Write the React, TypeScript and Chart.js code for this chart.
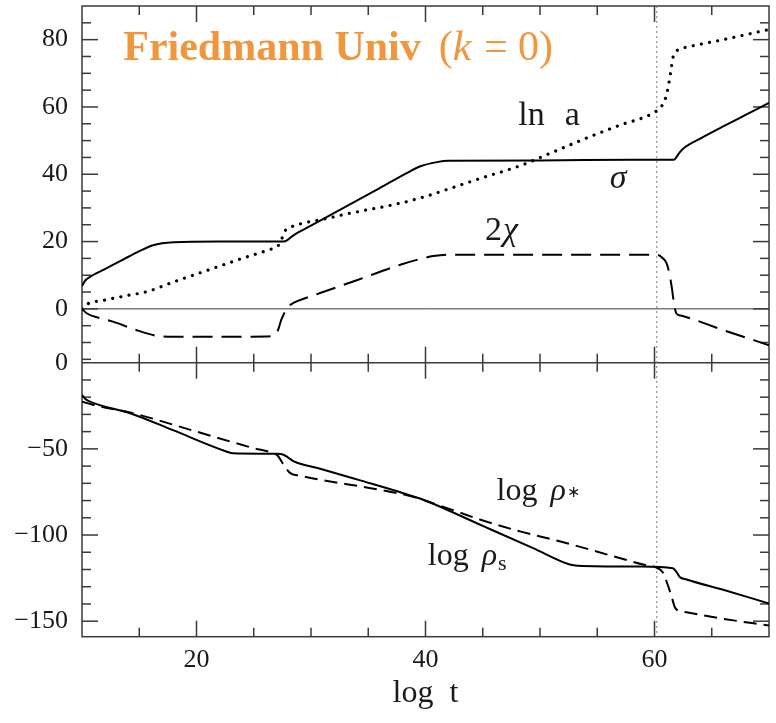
import React, { useEffect, useRef } from 'react';
import { Chart, registerables } from 'chart.js';

Chart.register(...registerables);

// ---- axis ranges & tick labels ----
const X_MIN = 10;
const X_MAX = 70;
const TOP_MIN = -16;
const TOP_MAX = 90;
const BOT_MIN = -159;
const BOT_MAX = 0;

const xTickLabels = [20, 40, 60];
const topTickLabels = [0, 20, 40, 60, 80];
const botTickLabels = [0, -50, -100, -150];

// ---- top panel series ----
const lnA_t = [10, 10.3, 10.7, 12, 13.5, 15.1, 16.2, 17, 18, 22, 27.6, 28.0, 28.4, 30, 33, 36, 38.4, 39.5, 41, 42, 50, 58, 61.7, 61.9, 62.2, 62.6, 64, 66, 68, 70];
const lnA_v = [6.8, 8.5, 9.5, 11.8, 14.5, 17.3, 18.9, 19.5, 19.8, 20.0, 20.0, 20.6, 21.7, 24.7, 30.3, 35.9, 40.4, 42.3, 43.6, 44.0, 44.1, 44.3, 44.3, 45.0, 46.5, 47.9, 50.6, 54.2, 57.7, 61.2];

const sigma_t = [10, 10.4, 12, 14, 15.65, 18, 21, 24, 26.1, 27.0, 27.3, 27.7, 28.2, 29, 31, 33.4, 37.8, 39.8, 42, 45, 48.25, 51, 54.1, 57, 59.9, 60.5, 60.9, 61.2, 61.4, 61.6, 61.9, 62.2, 63, 65.7, 70];
const sigma_v = [0, 1.3, 2.6, 4.0, 5.1, 8.0, 11.5, 15.0, 17.3, 18.5, 19.5, 23.0, 24.2, 25.2, 26.6, 28.4, 31.4, 33.2, 35.6, 39.0, 42.5, 46.4, 50.8, 54.6, 58.2, 59.8, 62.0, 66.0, 70.0, 74.5, 76.5, 77.2, 77.9, 79.8, 83.0];

const chi2_t = [10, 10.4, 11.5, 12.7, 14.5, 16.5, 18, 22, 26.2, 26.8, 27.1, 27.4, 27.7, 27.9, 28.3, 28.75, 30.8, 34, 37.8, 39.5, 40.7, 42, 50, 60.2, 60.6, 61.05, 61.3, 61.5, 61.7, 61.9, 62.3, 66, 70];
const chi2_v = [0, -1.3, -2.7, -3.8, -6.0, -8.0, -8.3, -8.3, -8.2, -7.7, -6.5, -3.3, -1.0, 0.4, 1.4, 2.2, 4.7, 8.5, 13.1, 14.8, 15.7, 16.1, 16.1, 16.1, 15.4, 13.6, 10.5, 6.6, 1.7, -1.3, -2.0, -6.3, -10.8];

// ---- bottom panel series ----
const rhoS_t = [10, 10.3, 10.7, 14.2, 18, 22.6, 23.2, 27.0, 27.6, 28.0, 28.5, 30.8, 34.3, 37.8, 39.8, 45, 49.4, 52.6, 53.3, 58.7, 61.6, 61.9, 62.2, 62.8, 66, 70];
const rhoS_v = [-18.7, -21.0, -22.6, -29.3, -39.3, -51.5, -52.6, -52.9, -53.4, -55.0, -57.3, -61.5, -68.3, -75.2, -79.5, -94.7, -107.6, -117.1, -117.8, -118.3, -119.3, -121.3, -124.3, -125.8, -131.8, -139.7];

const rhoStar_t = [10, 11.6, 14.2, 20, 25, 26.7, 27.1, 27.6, 28.2, 29, 30.8, 36, 38.9, 41.3, 44.8, 48.25, 51.7, 56.4, 59.0, 60.2, 60.7, 61.2, 61.5, 61.8, 62.2, 62.8, 66, 70];
const rhoStar_v = [-22.6, -25.5, -28.9, -40.0, -49.6, -52.5, -54.0, -59.2, -64.1, -65.5, -67.9, -73.7, -77.8, -83.0, -91.1, -97.9, -103.6, -112.3, -117.1, -119.0, -121.5, -129.7, -136.0, -142.2, -144.0, -144.8, -148.6, -152.5];

// ---- reference line & labels ----
const MARKER_T = 60.2;
const TITLE_MAIN = 'Friedmann Univ';
const TITLE_AT = [13.6, 74.0];
const LN_A_AT = [48.1, 54.7];
const SIGMA_AT = [56.1, 36.0];
const CHI_AT = [45.2, 20.5];
const RHO_STAR_AT = [46.2, -79.9];
const RHO_S_AT = [40.2, -117.5];

const SERIF = '"Liberation Serif", "Times New Roman", serif';
const ORANGE = '#F0963C';
const FRAME = '#3a3a3a';
const TEXT = '#1a1a1a';

const pts = (t: number[], v: number[]) => t.map((x, i) => ({ x, y: v[i] }));
const fmt = (v: number) => (v < 0 ? '\u2212' + Math.abs(v) : String(v));

const framePlugin = {
  id: 'framePlugin',
  beforeDatasetsDraw(chart: any) {
    const { ctx, chartArea: a, scales } = chart;
    const xs = scales.x;
    const yt = scales.yTop;
    const yb = scales.yBot;
    const mid = yt.bottom;
    ctx.save();
    ctx.strokeStyle = FRAME;
    ctx.lineWidth = 1.5;
    ctx.strokeRect(a.left, a.top, a.right - a.left, a.bottom - a.top);
    const seg = (x1: number, y1: number, x2: number, y2: number) => {
      ctx.beginPath();
      ctx.moveTo(x1, y1);
      ctx.lineTo(x2, y2);
      ctx.stroke();
    };
    seg(a.left, mid, a.right, mid);
    // x ticks
    for (let v = 15; v <= 65; v += 5) {
      const px = xs.getPixelForValue(v);
      const len = v % 20 === 0 ? 16 : 9;
      seg(px, a.top, px, a.top + len);
      seg(px, mid - len, px, mid + len);
      seg(px, a.bottom - len, px, a.bottom);
    }
    // top panel y ticks
    for (let v = -15; v <= 85; v += 5) {
      const py = yt.getPixelForValue(v);
      const len = v % 20 === 0 ? 16 : 9;
      seg(a.left, py, a.left + len, py);
      seg(a.right - len, py, a.right, py);
    }
    // bottom panel y ticks
    for (let v = -150; v <= -10; v += 10) {
      const py = yb.getPixelForValue(v);
      const len = v % 50 === 0 ? 16 : 9;
      seg(a.left, py, a.left + len, py);
      seg(a.right - len, py, a.right, py);
    }
    // zero line in top panel
    ctx.lineWidth = 1;
    const z = yt.getPixelForValue(0);
    seg(a.left, z, a.right, z);
    // vertical dotted marker
    ctx.strokeStyle = '#777';
    ctx.lineWidth = 1;
    ctx.setLineDash([2, 3]);
    const mx = xs.getPixelForValue(MARKER_T);
    seg(mx, a.top, mx, a.bottom);
    ctx.restore();
  },
};

type Run = { text: string; font: string; dy?: number; gap?: number };
const drawRuns = (ctx: any, x: number, y: number, runs: Run[]) => {
  let px = x;
  for (const r of runs) {
    px += r.gap || 0;
    ctx.font = r.font;
    ctx.fillText(r.text, px, y + (r.dy || 0));
    px += ctx.measureText(r.text).width;
  }
};

const labelPlugin = {
  id: 'labelPlugin',
  afterDatasetsDraw(chart: any) {
    const { ctx, scales } = chart;
    const X = (v: number) => scales.x.getPixelForValue(v);
    const YT = (v: number) => scales.yTop.getPixelForValue(v);
    const YB = (v: number) => scales.yBot.getPixelForValue(v);
    ctx.save();
    ctx.textAlign = 'left';
    ctx.textBaseline = 'alphabetic';
    // title
    ctx.fillStyle = ORANGE;
    drawRuns(ctx, X(TITLE_AT[0]), YT(TITLE_AT[1]), [
      { text: TITLE_MAIN, font: `bold 42px ${SERIF}` },
      { text: '(', font: `42px ${SERIF}`, gap: 18 },
      { text: 'k', font: `italic 42px ${SERIF}` },
      { text: ' = 0)', font: `42px ${SERIF}`, gap: 2 },
    ]);
    ctx.fillStyle = TEXT;
    drawRuns(ctx, X(LN_A_AT[0]), YT(LN_A_AT[1]), [
      { text: 'ln', font: `34px ${SERIF}` },
      { text: 'a', font: `34px ${SERIF}`, gap: 20 },
    ]);
    drawRuns(ctx, X(SIGMA_AT[0]), YT(SIGMA_AT[1]), [
      { text: '\u03C3', font: `italic 34px ${SERIF}` },
    ]);
    drawRuns(ctx, X(CHI_AT[0]), YT(CHI_AT[1]), [
      { text: '2', font: `34px ${SERIF}` },
      { text: '\u03C7', font: `italic 34px ${SERIF}`, gap: 1 },
    ]);
    drawRuns(ctx, X(RHO_STAR_AT[0]), YB(RHO_STAR_AT[1]), [
      { text: 'log', font: `32px ${SERIF}` },
      { text: '\u03C1', font: `italic 32px ${SERIF}`, gap: 13 },
      { text: '\u2217', font: `16px ${SERIF}`, dy: -3, gap: 1 },
    ]);
    drawRuns(ctx, X(RHO_S_AT[0]), YB(RHO_S_AT[1]), [
      { text: 'log', font: `32px ${SERIF}` },
      { text: '\u03C1', font: `italic 32px ${SERIF}`, gap: 13 },
      { text: 's', font: `22px ${SERIF}`, dy: 5, gap: 1 },
    ]);
    ctx.restore();
  },
};

const noPad = (s: any) => {
  s.paddingTop = 0;
  s.paddingBottom = 0;
  s.paddingLeft = 0;
  s.paddingRight = 0;
};

export default function App() {
  const ref = useRef<HTMLCanvasElement | null>(null);

  useEffect(() => {
    if (!ref.current) return;
    const line = (t: number[], v: number[], axis: string, extra: any) => ({
      data: pts(t, v),
      yAxisID: axis,
      borderColor: '#000',
      borderWidth: 2,
      pointRadius: 0,
      fill: false,
      cubicInterpolationMode: 'monotone',
      ...extra,
    });
    const tickFont = { family: SERIF, size: 26 };
    const chart = new Chart(ref.current, {
      type: 'line',
      data: {
        datasets: [
          line(lnA_t, lnA_v, 'yTop', {}),
          line(sigma_t, sigma_v, 'yTop', { borderWidth: 3.2, borderDash: [0.01, 8.3], borderCapStyle: 'round' }),
          line(chi2_t, chi2_v, 'yTop', { borderDash: [20, 9] }),
          line(rhoS_t, rhoS_v, 'yBot', {}),
          line(rhoStar_t, rhoStar_v, 'yBot', { borderDash: [13, 7] }),
        ] as any,
      },
      options: {
        animation: false,
        responsive: false,
        maintainAspectRatio: false,
        layout: { padding: { top: 6, right: 7, left: 0, bottom: 0 } },
        plugins: { legend: { display: false }, tooltip: { enabled: false } },
        scales: {
          x: {
            type: 'linear',
            position: 'bottom',
            min: X_MIN,
            max: X_MAX,
            grid: { display: false, drawTicks: false },
            border: { display: false },
            afterBuildTicks: (s: any) => {
              s.ticks = xTickLabels.map((value) => ({ value }));
            },
            afterFit: (s: any) => {
              s.height = 86.3;
              noPad(s);
            },
            ticks: { autoSkip: false, maxRotation: 0, padding: 8, color: TEXT, font: tickFont, callback: (v: any) => fmt(v) },
            title: { display: true, text: 'log  t', color: TEXT, font: { family: SERIF, size: 32 }, padding: { top: 0, bottom: 10 } },
          },
          yBot: {
            type: 'linear',
            position: 'left',
            stack: 'panels',
            stackWeight: 274,
            min: BOT_MIN,
            max: BOT_MAX,
            grid: { display: false, drawTicks: false },
            border: { display: false },
            afterBuildTicks: (s: any) => {
              s.ticks = botTickLabels.map((value) => ({ value }));
            },
            afterFit: (s: any) => {
              s.width = 82;
              noPad(s);
            },
            ticks: { autoSkip: false, padding: 14, color: TEXT, font: tickFont, callback: (v: any) => fmt(v) },
          },
          yTop: {
            type: 'linear',
            position: 'left',
            stack: 'panels',
            stackWeight: 356.7,
            min: TOP_MIN,
            max: TOP_MAX,
            grid: { display: false, drawTicks: false },
            border: { display: false },
            afterBuildTicks: (s: any) => {
              s.ticks = topTickLabels.map((value) => ({ value }));
            },
            afterFit: (s: any) => {
              s.width = 82;
              noPad(s);
            },
            ticks: { autoSkip: false, padding: 14, color: TEXT, font: tickFont, callback: (v: any) => fmt(v) },
          },
        } as any,
      },
      plugins: [framePlugin, labelPlugin],
    });
    return () => chart.destroy();
  }, []);

  return (
    <div style={{ position: 'absolute', left: 0, top: 0, width: 776, height: 723, background: '#fff' }}>
      <canvas ref={ref} width={776} height={723} style={{ display: 'block', width: 776, height: 723 }} />
    </div>
  );
}
